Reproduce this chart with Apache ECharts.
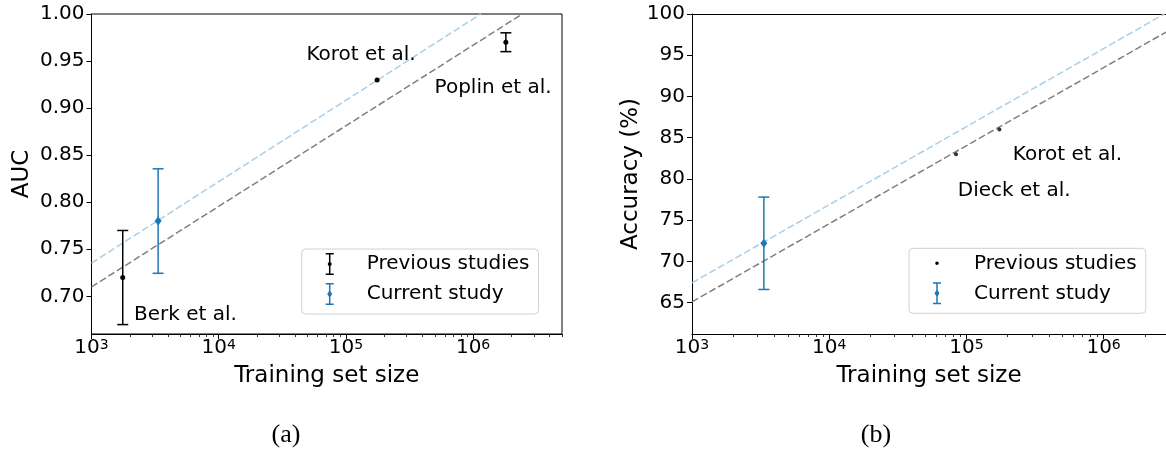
<!DOCTYPE html>
<html>
<head>
<meta charset="utf-8">
<script src="https://cdn.jsdelivr.net/npm/echarts@6/dist/echarts.min.js"></script>
<style>
html,body{margin:0;padding:0;background:#fff;}
#chart{width:1166px;height:450px;}
</style>
</head>
<body>
<div id="chart"></div>
<script>
// ---------- data ----------
const leftPrevX  = [1760, 176000, 1810000];
const leftPrevY  = [0.72, 0.93, 0.97];
const leftPrevLo = [0.67, 0.93, 0.96];
const leftPrevHi = [0.77, 0.93, 0.98];

const leftCurX  = [3340];
const leftCurY  = [0.78];
const leftCurLo = [0.7245];
const leftCurHi = [0.8355];

const rightPrevX = [84000, 174000];
const rightPrevY = [83.0, 86.0];

const rightCurX  = [3340];
const rightCurY  = [72.2];
const rightCurLo = [66.6];
const rightCurHi = [77.8];

const leftFitGrayX = [1000, 2440000];
const leftFitGrayY = [0.710, 1.0];
const leftFitBlueX = [1000, 1150000];
const leftFitBlueY = [0.7354, 1.0];
const rightFitGrayX = [1000, 2850000];
const rightFitGrayY = [65.1, 97.8];
const rightFitBlueX = [1000, 2770000];
const rightFitBlueY = [67.4, 100.0];

const leftNoteNames = ['Korot et al.', 'Poplin et al.', 'Berk et al.'];
const leftNoteX = [48900, 498000, 2160];
const leftNoteY = [0.957, 0.922, 0.680];
const rightNoteNames = ['Korot et al.', 'Dieck et al.'];
const rightNoteX = [218000, 86500];
const rightNoteY = [82.9, 78.6];

const xMajorTicks = [1e3, 1e4, 1e5, 1e6];
const leftYTicks = [0.70, 0.75, 0.80, 0.85, 0.90, 0.95, 1.00];
const rightYTicks = [65, 70, 75, 80, 85, 90, 95, 100];
const legendNames = ['Previous studies', 'Current study'];
const captions = ['(a)', '(b)'];

// ---------- helpers ----------
const FONT = 'DejaVu Sans';
const BLUE = '#1f77b4';
const minorTicks = [];
for (let d = 3; d <= 6; d++) for (let m = 2; m <= 9; m++) minorTicks.push(m * Math.pow(10, d));

const zip2 = (a, b) => a.map((v, i) => [v, b[i]]);
const zip4 = (a, b, c, d) => a.map((v, i) => [v, b[i], c[i], d[i]]);

function logLabel(v) {
  const e = Math.round(Math.log10(v));
  return '{b|10}{s|' + e + '}';
}
const logRich = {
  b: {fontSize: 20, fontFamily: FONT, color: '#000', verticalAlign: 'bottom', lineHeight: 20, padding: [3, 0, 0, 0]},
  s: {fontSize: 14, fontFamily: FONT, color: '#000', verticalAlign: 'top', lineHeight: 14}
};

function errRender(color, marker) {
  return function (params, api) {
    const x = api.value(0), y = api.value(1), lo = api.value(2), hi = api.value(3);
    const p = api.coord([x, y]);
    const pl = api.coord([x, lo]);
    const ph = api.coord([x, hi]);
    const cw = 5.5;
    const st = {stroke: color, lineWidth: 1.5};
    const children = [];
    if (hi !== lo) {
      children.push({type: 'line', shape: {x1: p[0], y1: pl[1], x2: p[0], y2: ph[1]}, style: st});
      children.push({type: 'line', shape: {x1: p[0] - cw, y1: pl[1], x2: p[0] + cw, y2: pl[1]}, style: st});
      children.push({type: 'line', shape: {x1: p[0] - cw, y1: ph[1], x2: p[0] + cw, y2: ph[1]}, style: st});
    }
    if (marker === 'diamond') {
      children.push({type: 'polygon', shape: {points: [[p[0], p[1] - 4.5], [p[0] + 3.5, p[1]], [p[0], p[1] + 4.5], [p[0] - 3.5, p[1]]]}, style: {fill: color}});
    } else {
      children.push({type: 'circle', shape: {cx: p[0], cy: p[1], r: 2.5}, style: {fill: color}});
    }
    return {type: 'group', children: children};
  };
}

function noteRender(names) {
  return function (params, api) {
    const p = api.coord([api.value(0), api.value(1)]);
    return {
      type: 'text', x: p[0], y: p[1],
      style: {text: names[params.dataIndex], fill: '#000', font: '20px "DejaVu Sans"', textAlign: 'left', textVerticalAlign: 'middle'}
    };
  };
}

const iconErrDot = 'path://M0,0H8V1.5H4.75V20.5H8V22H0V20.5H3.25V1.5H0Z M2,11A2,2 0 1,1 6,11A2,2 0 1,1 2,11Z';
const iconErrDiamond = 'path://M0,0H8V1.5H4.75V20.5H8V22H0V20.5H3.25V1.5H0Z M4,7L6.5,11L4,15L1.5,11Z';
const iconDot = 'path://M0,0M8,22M2.2,11A1.8,1.8 0 1,1 5.8,11A1.8,1.8 0 1,1 2.2,11Z';

function xMain(grid, max) {
  return {
    type: 'log', logBase: 10, gridIndex: grid, min: 1000, max: max, position: 'bottom',
    name: 'Training set size', nameLocation: 'middle', nameGap: 31,
    nameTextStyle: {fontSize: 23, fontFamily: FONT, color: '#000'},
    axisLine: {show: true, lineStyle: {color: '#000', width: 1}},
    axisTick: {show: true, inside: false, length: 5, customValues: xMajorTicks, lineStyle: {color: '#000', width: 1}},
    axisLabel: {show: true, margin: 4, customValues: xMajorTicks, formatter: logLabel, rich: logRich},
    minorTick: {show: false}, splitLine: {show: false}
  };
}
function xMinor(grid, max) {
  return {
    type: 'log', logBase: 10, gridIndex: grid, min: 1000, max: max, position: 'bottom',
    axisLine: {show: false},
    axisTick: {show: true, inside: false, length: 3, customValues: minorTicks.filter(v => v <= max), lineStyle: {color: '#000', width: 0.8}},
    axisLabel: {show: false}, splitLine: {show: false}
  };
}
function yAxis(grid, min, max, ticks, name, gap, digits) {
  return {
    type: 'value', gridIndex: grid, min: min, max: max,
    name: name, nameLocation: 'middle', nameGap: gap,
    nameTextStyle: {fontSize: 23, fontFamily: FONT, color: '#000'},
    axisLine: {show: true, lineStyle: {color: '#000', width: 1}},
    axisTick: {show: true, inside: false, length: 5, customValues: ticks, lineStyle: {color: '#000', width: 1}},
    axisLabel: {show: true, margin: 7, customValues: ticks, fontSize: 20, fontFamily: FONT, color: '#000',
      formatter: v => Number(v).toFixed(digits)},
    splitLine: {show: false}
  };
}
function fitLine(name, xs, ys, color, xi, yi) {
  return {
    name: name, type: 'line', xAxisIndex: xi, yAxisIndex: yi, data: zip2(xs, ys),
    showSymbol: false, symbol: 'none', silent: true, z: 1,
    lineStyle: {color: color, width: 1.5, type: [7, 3]}
  };
}
function notes(names, xs, ys, xi, yi) {
  return {
    type: 'custom', xAxisIndex: xi, yAxisIndex: yi, silent: true, z: 5, clip: false,
    encode: {x: 0, y: 1},
    data: zip2(xs, ys),
    renderItem: noteRender(names)
  };
}
function legendCfg(left, top, icons) {
  return {
    orient: 'vertical', left: left, top: top, itemWidth: 8, itemHeight: 22, itemGap: 8,
    padding: [4, 9, 9, 24], backgroundColor: 'rgba(255,255,255,0.8)',
    borderColor: '#d0d0d0', borderWidth: 1, borderRadius: 4,
    selectedMode: false,
    textStyle: {fontSize: 20, fontFamily: FONT, color: '#000', padding: [0, 0, 0, 28]},
    data: legendNames.map((n, i) => ({name: n, icon: icons[i]}))
  };
}

const chart = echarts.init(document.getElementById('chart'), null, {renderer: 'canvas'});
const option = {
  animation: false,
  backgroundColor: '#fff',
  textStyle: {fontFamily: FONT},
  grid: [
    {left: 91.5, top: 14, width: 470.5, height: 320, show: true, borderColor: '#000', borderWidth: 1, backgroundColor: 'transparent'},
    {left: 692, top: 14, right: 0, height: 320, show: false}
  ],
  xAxis: [
    xMain(0, 5e6), xMinor(0, 5e6),
    xMain(1, 2.85e6), xMinor(1, 2.85e6),
    {type: 'log', gridIndex: 1, min: 1000, max: 2.85e6, position: 'top',
     axisLine: {show: true, lineStyle: {color: '#000', width: 1}}, axisTick: {show: false}, axisLabel: {show: false}, splitLine: {show: false}}
  ],
  yAxis: [
    yAxis(0, 0.66, 1.0, leftYTicks, 'AUC', 58, 2),
    yAxis(1, 61.2, 100, rightYTicks, 'Accuracy (%)', 49, 0)
  ],
  legend: [
    legendCfg(301.7, 249, [iconErrDot, iconErrDiamond]),
    legendCfg(909, 248.3, [iconDot, iconErrDiamond])
  ],
  graphic: [
    {type: 'text', x: 286, y: 435, style: {text: captions[0], font: '26px "Liberation Serif"', fill: '#000', textAlign: 'center', textVerticalAlign: 'middle'}},
    {type: 'text', x: 876, y: 435, style: {text: captions[1], font: '26px "Liberation Serif"', fill: '#000', textAlign: 'center', textVerticalAlign: 'middle'}}
  ],
  series: [
    fitLine('fitGrayL', leftFitGrayX, leftFitGrayY, '#7f7f7f', 0, 0),
    fitLine('fitBlueL', leftFitBlueX, leftFitBlueY, '#a9cfe8', 0, 0),
    fitLine('fitGrayR', rightFitGrayX, rightFitGrayY, '#7f7f7f', 2, 1),
    fitLine('fitBlueR', rightFitBlueX, rightFitBlueY, '#a9cfe8', 2, 1),
    {
      name: 'Previous studies', type: 'custom', xAxisIndex: 0, yAxisIndex: 0, z: 3,
      itemStyle: {color: '#000'}, encode: {x: 0, y: [1, 2, 3]},
      data: zip4(leftPrevX, leftPrevY, leftPrevLo, leftPrevHi),
      renderItem: errRender('#000', 'circle')
    },
    {
      name: 'Current study', type: 'custom', xAxisIndex: 0, yAxisIndex: 0, z: 3,
      itemStyle: {color: BLUE}, encode: {x: 0, y: [1, 2, 3]},
      data: zip4(leftCurX, leftCurY, leftCurLo, leftCurHi),
      renderItem: errRender(BLUE, 'diamond')
    },
    {
      name: 'Previous studies', type: 'scatter', xAxisIndex: 2, yAxisIndex: 1, z: 3,
      symbol: 'circle', symbolSize: 4, itemStyle: {color: '#000'},
      data: zip2(rightPrevX, rightPrevY)
    },
    {
      name: 'Current study', type: 'custom', xAxisIndex: 2, yAxisIndex: 1, z: 3,
      itemStyle: {color: BLUE}, encode: {x: 0, y: [1, 2, 3]},
      data: zip4(rightCurX, rightCurY, rightCurLo, rightCurHi),
      renderItem: errRender(BLUE, 'diamond')
    },
    notes(leftNoteNames, leftNoteX, leftNoteY, 0, 0),
    notes(rightNoteNames, rightNoteX, rightNoteY, 2, 1)
  ]
};
chart.setOption(option);
</script>
</body>
</html>
